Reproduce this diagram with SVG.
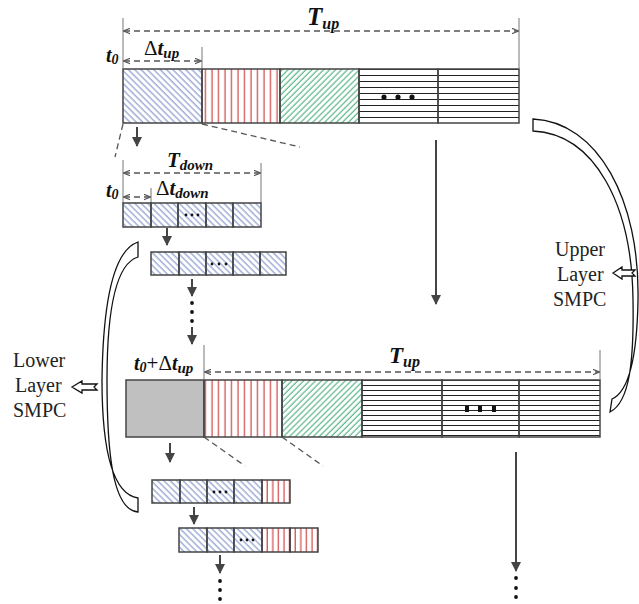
<svg xmlns="http://www.w3.org/2000/svg" width="639" height="604" viewBox="0 0 639 604">
  <defs>
    <!-- hatch fills for the horizon segments -->
    <pattern id="hBlue" patternUnits="userSpaceOnUse" width="4.5" height="4.5" patternTransform="rotate(-45)">
      <line x1="1" y1="0" x2="1" y2="4.5" stroke="#7288c4" stroke-width="1"/>
    </pattern>
    <pattern id="hGreen" patternUnits="userSpaceOnUse" width="4.2" height="4.2" patternTransform="rotate(45)">
      <line x1="1" y1="0" x2="1" y2="4.2" stroke="#3aa874" stroke-width="1"/>
    </pattern>
    <pattern id="hRed" patternUnits="userSpaceOnUse" width="6.5" height="6" x="1">
      <line x1="3" y1="0" x2="3" y2="6" stroke="#cc3333" stroke-width="1.1"/>
    </pattern>
    <pattern id="hRedS" patternUnits="userSpaceOnUse" width="5.6" height="6" x="1">
      <line x1="3" y1="0" x2="3" y2="6" stroke="#cc3333" stroke-width="1.1"/>
    </pattern>
    <pattern id="hBlackTop" patternUnits="userSpaceOnUse" width="6" height="6" y="69">
      <line x1="0" y1="0.5" x2="6" y2="0.5" stroke="#222" stroke-width="1"/>
    </pattern>
    <pattern id="hBlackLow" patternUnits="userSpaceOnUse" width="6" height="5" y="380">
      <line x1="0" y1="0.5" x2="6" y2="0.5" stroke="#222" stroke-width="1"/>
    </pattern>
    <marker id="head" viewBox="0 0 10 10" markerWidth="10" markerHeight="10" refX="9" refY="5" orient="auto" markerUnits="userSpaceOnUse">
      <path d="M0,0 L10,5 L0,10 z" fill="#444"/>
    </marker>
    <marker id="dim" viewBox="0 0 10 10" markerWidth="7" markerHeight="7" refX="9" refY="5" orient="auto-start-reverse" markerUnits="userSpaceOnUse">
      <path d="M0,1 L10,5 L0,9" fill="none" stroke="#555" stroke-width="1.6"/>
    </marker>
  </defs>
  <style>
    .cell{stroke:#444;stroke-width:1.5}
    .blue{fill:url(#hBlue)}
    .green{fill:url(#hGreen)}
    .red{fill:url(#hRed)}
    .reds{fill:url(#hRedS)}
    .hTop{fill:url(#hBlackTop)}
    .hLow{fill:url(#hBlackLow)}
    .gray{fill:#c0c0c0}
    .dash{stroke:#555;stroke-width:1.3;stroke-dasharray:6 4;fill:none}
    .ext{stroke:#777;stroke-width:1;fill:none}
    .dimline{stroke:#555;stroke-width:1.3;stroke-dasharray:6 4;fill:none}
    .flow{stroke:#444;stroke-width:2;fill:none}
    .math{font-family:"Liberation Serif",serif;font-style:italic;font-weight:bold;fill:#111}
    .up{font-family:"Liberation Serif",serif;font-style:normal;font-weight:normal}
    .lbl{font-family:"Liberation Serif",serif;font-size:20px;fill:#222}
    .brk{fill:#fff;stroke:#111;stroke-width:1.3}
    .dot{fill:#111}
  </style>

  <!-- upper-layer horizon -->
  <g id="upper-horizon">
    <rect class="cell blue" x="123" y="69" width="79" height="54"/>
    <rect class="cell red" x="202" y="69" width="78" height="54"/>
    <rect class="cell green" x="280" y="69" width="79" height="54"/>
    <rect class="cell hTop" x="359" y="69" width="79" height="54"/>
    <rect class="cell hTop" x="438" y="69" width="81" height="54"/>
    <circle class="dot" cx="384" cy="97" r="2.6"/>
    <circle class="dot" cx="398" cy="97" r="2.6"/>
    <circle class="dot" cx="412" cy="97" r="2.6"/>
  </g>

  <!-- upper-layer dimensions -->
  <g id="upper-dims">
    <line class="ext" x1="123" y1="18" x2="123" y2="69"/>
    <line class="ext" x1="519" y1="18" x2="519" y2="69"/>
    <line class="ext" x1="202" y1="47" x2="202" y2="69"/>
    <line class="dimline" x1="124" y1="31" x2="518" y2="31" marker-start="url(#dim)" marker-end="url(#dim)"/>
    <line class="dimline" x1="124" y1="61" x2="201" y2="61" marker-start="url(#dim)" marker-end="url(#dim)"/>
    <text class="math" x="307" y="25" font-size="25">T<tspan font-size="16" dy="4">up</tspan></text>
    <text class="math" x="144" y="55" font-size="21"><tspan class="up">Δ</tspan>t<tspan font-size="15" dy="3">up</tspan></text>
    <text class="math" x="106" y="62" font-size="20">t<tspan font-size="14" dy="2">0</tspan></text>
  </g>

  <!-- lower-layer horizon, first step -->
  <g id="lower-horizon-1">
    <line class="ext" x1="123" y1="160" x2="123" y2="203"/>
    <line class="ext" x1="261" y1="163" x2="261" y2="203"/>
    <line class="ext" x1="151" y1="188" x2="151" y2="203"/>
    <line class="dimline" x1="124" y1="173" x2="260" y2="173" marker-start="url(#dim)" marker-end="url(#dim)"/>
    <line class="dimline" x1="124" y1="197" x2="150" y2="197" marker-start="url(#dim)" marker-end="url(#dim)"/>
    <text class="math" x="167" y="167" font-size="21">T<tspan font-size="15" dy="3">down</tspan></text>
    <text class="math" x="156" y="195" font-size="21"><tspan class="up">Δ</tspan>t<tspan font-size="15" dy="3">down</tspan></text>
    <text class="math" x="106" y="197" font-size="20">t<tspan font-size="14" dy="2">0</tspan></text>
    <rect class="cell blue" x="123" y="203" width="28" height="24"/>
    <rect class="cell blue" x="151" y="203" width="27" height="24"/>
    <rect class="cell blue" x="178" y="203" width="28" height="24"/>
    <rect class="cell blue" x="206" y="203" width="27" height="24"/>
    <rect class="cell blue" x="233" y="203" width="28" height="24"/>
    <circle class="dot" cx="186" cy="215" r="1.4"/>
    <circle class="dot" cx="192" cy="215" r="1.4"/>
    <circle class="dot" cx="198" cy="215" r="1.4"/>
  </g>

  <!-- lower-layer horizon, second step -->
  <g id="lower-horizon-2">
    <rect class="cell blue" x="151" y="252" width="28" height="23"/>
    <rect class="cell blue" x="179" y="252" width="27" height="23"/>
    <rect class="cell blue" x="206" y="252" width="27" height="23"/>
    <rect class="cell blue" x="233" y="252" width="27" height="23"/>
    <rect class="cell blue" x="260" y="252" width="26" height="23"/>
    <circle class="dot" cx="212" cy="264" r="1.4"/>
    <circle class="dot" cx="219" cy="264" r="1.4"/>
    <circle class="dot" cx="226" cy="264" r="1.4"/>
    <circle class="dot" cx="192" cy="303" r="1.9"/>
    <circle class="dot" cx="192" cy="312" r="1.9"/>
    <circle class="dot" cx="192" cy="321" r="1.9"/>
  </g>

  <!-- upper-layer horizon, next step -->
  <g id="upper-horizon-next">
    <rect class="cell gray" x="126" y="380" width="78" height="57"/>
    <rect class="cell red" x="204" y="380" width="78" height="57"/>
    <rect class="cell green" x="282" y="380" width="80" height="57"/>
    <rect class="cell hLow" x="362" y="380" width="80" height="57"/>
    <rect class="cell hLow" x="442" y="380" width="77" height="57"/>
    <rect class="cell hLow" x="519" y="380" width="81" height="57"/>
    <rect class="dot" x="465" y="406" width="4" height="6"/>
    <rect class="dot" x="478" y="406" width="4" height="6"/>
    <rect class="dot" x="492" y="406" width="4" height="6"/>
    <line class="ext" x1="204" y1="345" x2="204" y2="380"/>
    <line class="ext" x1="600" y1="350" x2="600" y2="380"/>
    <line class="dimline" x1="205" y1="372" x2="599" y2="372" marker-start="url(#dim)" marker-end="url(#dim)"/>
    <text class="math" x="389" y="363" font-size="23">T<tspan font-size="16" dy="4">up</tspan></text>
    <text class="math" x="134" y="370" font-size="20">t<tspan font-size="14" dy="2">0</tspan><tspan class="up" font-size="21" dy="-2">+Δ</tspan>t<tspan font-size="15" dy="3">up</tspan></text>
  </g>

  <!-- lower-layer horizon after the upper step -->
  <g id="lower-horizon-3">
    <rect class="cell blue" x="152" y="480" width="28" height="23"/>
    <rect class="cell blue" x="180" y="480" width="27" height="23"/>
    <rect class="cell blue" x="207" y="480" width="27" height="23"/>
    <rect class="cell blue" x="234" y="480" width="28" height="23"/>
    <rect class="cell reds" x="262" y="480" width="28" height="23"/>
    <circle class="dot" cx="214" cy="492" r="1.4"/>
    <circle class="dot" cx="220" cy="492" r="1.4"/>
    <circle class="dot" cx="226" cy="492" r="1.4"/>
  </g>

  <g id="lower-horizon-4">
    <rect class="cell blue" x="179" y="528" width="28" height="24"/>
    <rect class="cell blue" x="207" y="528" width="27" height="24"/>
    <rect class="cell blue" x="234" y="528" width="28" height="24"/>
    <rect class="cell reds" x="262" y="528" width="28" height="24"/>
    <rect class="cell reds" x="290" y="528" width="28" height="24"/>
    <circle class="dot" cx="241" cy="540" r="1.4"/>
    <circle class="dot" cx="247" cy="540" r="1.4"/>
    <circle class="dot" cx="253" cy="540" r="1.4"/>
    <circle class="dot" cx="220" cy="581" r="1.9"/>
    <circle class="dot" cx="220" cy="590" r="1.9"/>
    <circle class="dot" cx="220" cy="599" r="1.9"/>
    <circle class="dot" cx="516" cy="578" r="1.9"/>
    <circle class="dot" cx="516" cy="588" r="1.9"/>
    <circle class="dot" cx="516" cy="597" r="1.9"/>
  </g>

  <!-- upper-layer SMPC loop -->
  <g id="upper-smpc">
    <path class="brk" d="M533,119 C598,122 640,200 638,300 C637,360 628,392 612,399 L610,412 C630,402 634,360 633,300 C632,205 595,134 533,131 Z"/>
    <path class="brk" d="M613,273 L622,267 L622,270 L635,270 L632,273 L635,276 L622,276 L622,279 Z"/>
    <text class="lbl" x="555" y="256">Upper</text>
    <text class="lbl" x="557" y="281">Layer</text>
    <text class="lbl" x="553" y="306">SMPC</text>
  </g>

  <!-- lower-layer SMPC loop -->
  <g id="lower-smpc">
    <path class="brk" d="M138,242 C114,250 103,300 102,380 C102,450 112,494 138,498 L138,512 C112,510 107,450 107,380 C107,300 118,263 138,257 Z"/>
    <path class="brk" d="M72,387 L82,381 L82,384 L97,384 L94,387 L97,390 L82,390 L82,393 Z"/>
    <text class="lbl" x="13" y="367">Lower</text>
    <text class="lbl" x="15" y="392">Layer</text>
    <text class="lbl" x="13" y="417">SMPC</text>
  </g>

  <!-- connectors -->
  <g id="connectors">
    <line class="dash" x1="123" y1="124" x2="115" y2="157"/>
    <line class="dash" x1="202" y1="124" x2="300" y2="147"/>
    <line class="dash" x1="204" y1="437" x2="245" y2="466"/>
    <line class="dash" x1="282" y1="437" x2="323" y2="466"/>
    <line class="flow" x1="137" y1="127" x2="137" y2="146" marker-end="url(#head)"/>
    <line class="flow" x1="167" y1="228" x2="167" y2="245" marker-end="url(#head)"/>
    <line class="flow" x1="192" y1="279" x2="192" y2="296" marker-end="url(#head)"/>
    <line class="flow" x1="192" y1="327" x2="192" y2="344" marker-end="url(#head)"/>
    <line class="flow" x1="436" y1="140" x2="436" y2="304" marker-end="url(#head)"/>
    <line class="flow" x1="170" y1="443" x2="170" y2="462" marker-end="url(#head)"/>
    <line class="flow" x1="194" y1="507" x2="194" y2="524" marker-end="url(#head)"/>
    <line class="flow" x1="220" y1="555" x2="220" y2="573" marker-end="url(#head)"/>
    <line class="flow" x1="516" y1="452" x2="516" y2="571" marker-end="url(#head)"/>
  </g>
</svg>
